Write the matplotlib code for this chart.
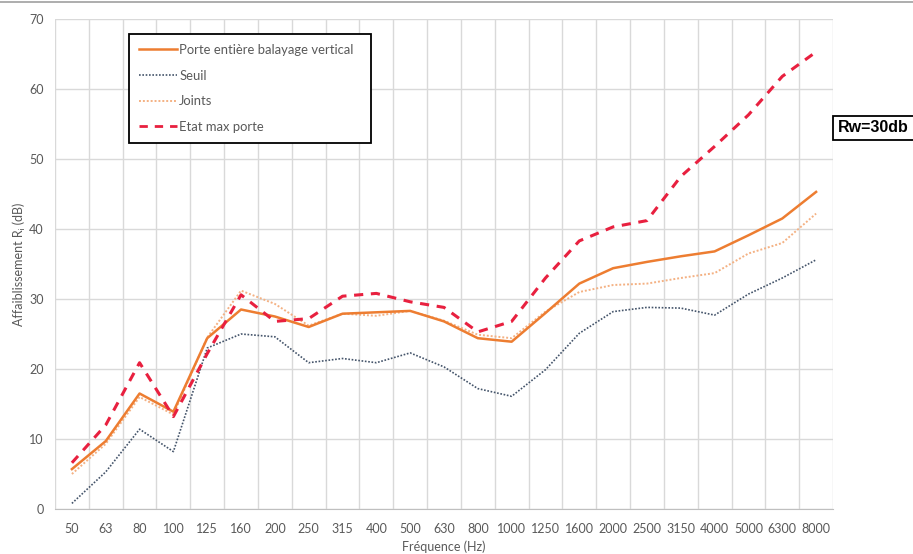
import matplotlib
matplotlib.use("Agg")
import matplotlib.pyplot as plt
from matplotlib.lines import Line2D
import numpy as np

plt.rcParams['font.family'] = ['Lato', 'DejaVu Sans']

freqs = ["50", "63", "80", "100", "125", "160", "200", "250", "315", "400", "500", "630",
         "800", "1000", "1250", "1600", "2000", "2500", "3150", "4000", "5000", "6300", "8000"]

porte = [5.7, 9.7, 16.5, 13.9, 24.4, 28.5, 27.5, 26.0, 27.9, 28.1, 28.3, 26.8,
         24.4, 23.9, 28.0, 32.2, 34.4, 35.3, 36.1, 36.8, 39.1, 41.5, 45.3]
seuil = [0.8, 5.3, 11.4, 8.2, 23.0, 25.0, 24.6, 20.9, 21.5, 20.9, 22.3, 20.3,
         17.2, 16.1, 19.9, 25.1, 28.2, 28.8, 28.7, 27.7, 30.7, 33.0, 35.6]
joints = [5.0, 9.3, 16.0, 13.5, 24.5, 31.2, 29.3, 26.2, 27.9, 27.6, 28.3, 26.9,
          24.9, 24.4, 28.2, 31.0, 32.0, 32.2, 33.0, 33.7, 36.5, 38.0, 42.2]
etat_max = [6.6, 12.0, 20.9, 13.2, 22.2, 30.6, 26.8, 27.2, 30.4, 30.8, 29.6, 28.8,
            25.3, 26.8, 33.0, 38.3, 40.3, 41.2, 47.5, 51.8, 56.3, 61.8, 65.3]

labels = ["Porte entière balayage vertical", "Seuil", "Joints", "Etat max porte"]

fig = plt.figure(figsize=(9.13, 5.54), dpi=100)
ax = fig.add_axes([55/913, 1-509/554, 778/913, 490/554])

x = np.arange(len(freqs))
c_porte = "#ED7D31"
c_seuil = "#44546A"
c_joints = "#F4B183"
c_etat = "#E8203F"

ax.plot(x, joints, color=c_joints, lw=1.4, ls=(0, (1, 1)), zorder=3)
ax.plot(x, seuil, color=c_seuil, lw=1.2, ls=(0, (1, 1)), zorder=3)
ax.plot(x, porte, color=c_porte, lw=1.8, zorder=4)
ax.plot(x, etat_max, color=c_etat, lw=2.2, ls=(0, (3, 2.5)), zorder=5)

ax.set_xlim(-0.5, len(freqs) - 0.5)
ax.set_ylim(0, 70)
ax.set_yticks(np.arange(0, 71, 10))
ax.set_xticks(x)
ax.set_xticklabels(freqs)
ax.set_xticks(np.arange(-0.5, len(freqs), 1), minor=True)
ax.grid(True, which='minor', axis='x', color='#D9D9D9', lw=1)
ax.grid(True, which='major', axis='y', color='#D9D9D9', lw=1)
ax.set_axisbelow(True)
for s in ['top', 'right', 'left']:
    ax.spines[s].set_visible(False)
ax.spines['bottom'].set_color('#BFBFBF')
ax.tick_params(axis='both', which='both', length=0, labelsize=9, colors='#595959')
ax.tick_params(axis='x', pad=10)
ax.tick_params(axis='y', pad=8)

ax.set_xlabel("Fréquence (Hz)", fontsize=9, color='#595959', labelpad=4)
ax.set_ylabel("Affaiblissement Rᵢ (dB)", fontsize=9, color='#595959', labelpad=3)

handles = [
    Line2D([], [], color=c_porte, lw=1.8),
    Line2D([], [], color=c_seuil, lw=1.2, ls=(0, (1, 1))),
    Line2D([], [], color=c_joints, lw=1.4, ls=(0, (1, 1))),
    Line2D([], [], color=c_etat, lw=2.0, ls=(0, (3, 2.5))),
]
leg = ax.legend(handles, labels, loc='upper left',
                bbox_to_anchor=((129-55)/778, (509-34)/490, (371-129)/778, 0),
                mode='expand', borderaxespad=0, fontsize=9.4, handlelength=2.9,
                handletextpad=0.2, labelspacing=1.05, borderpad=0.75, fancybox=False,
                framealpha=1, edgecolor='black')
leg.get_frame().set_linewidth(1.3)
for t in leg.get_texts():
    t.set_color('#595959')

fig.text(838/913, 1-128/554, "Rw=30db", fontsize=11.5, fontweight='bold',
         family='Liberation Sans', va='center', ha='left',
         bbox=dict(boxstyle='square,pad=0.3', fc='white', ec='black', lw=1.3))

fig.add_artist(Line2D([0, 1], [1-1.5/554, 1-1.5/554], color='#A0A0A0', lw=1.2))

fig.savefig("out.png", dpi=100)
